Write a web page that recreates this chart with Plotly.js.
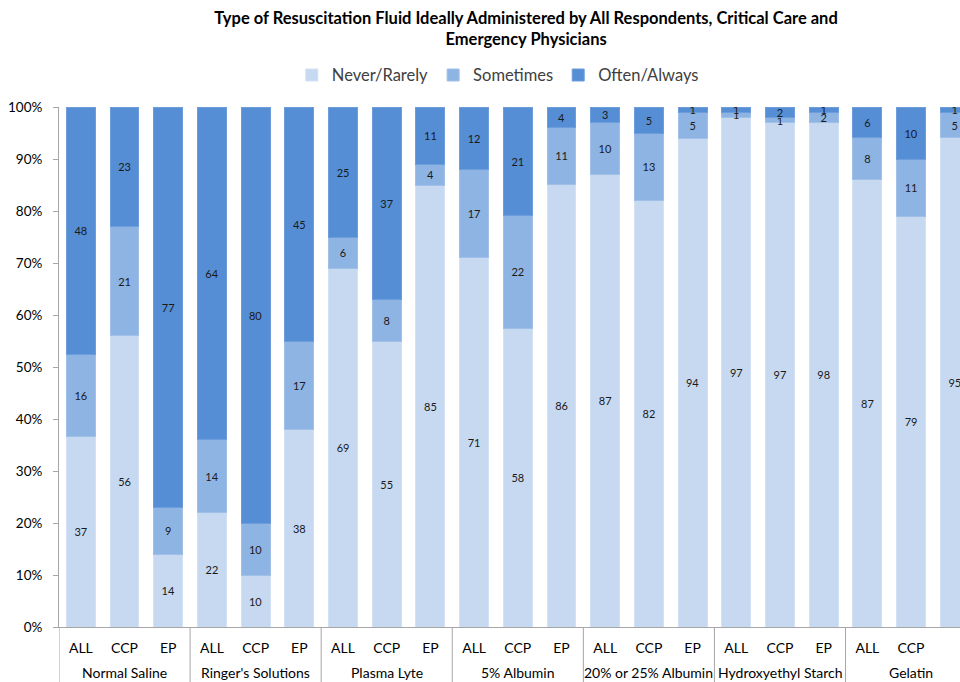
<!DOCTYPE html>
<html>
<head>
<meta charset="utf-8">
<script src="https://cdn.plot.ly/plotly-3.0.1.min.js"></script>
<style>html,body{margin:0;padding:0;background:#fff;}#chart{width:960px;height:682px;}</style>
</head>
<body>
<div id="chart"></div>
<script>
const groups = ["Normal Saline", "Ringer's Solutions", "Plasma Lyte", "5% Albumin", "20% or 25% Albumin", "Hydroxyethyl Starch", "Gelatin"];
const subgroups = ["ALL", "CCP", "EP"];
const seriesNames = ["Never/Rarely", "Sometimes", "Often/Always"];
const neverRarely = [37, 56, 14, 22, 10, 38, 69, 55, 85, 71, 58, 86, 87, 82, 94, 97, 97, 98, 87, 79, 95];
const sometimes   = [16, 21, 9, 14, 10, 17, 6, 8, 4, 17, 22, 11, 10, 13, 5, 1, 1, 2, 8, 11, 5];
const oftenAlways = [48, 23, 77, 64, 80, 45, 25, 37, 11, 12, 21, 4, 3, 5, 1, 1, 2, 1, 6, 10, 1];
const colors = ["#C6D9F1", "#8EB4E3", "#558ED5"];
const edges = ["#D3E1F4", "#A0C0E8", "#6D9EDB"];

const FONT = 'Lato, sans-serif';
const nSub = subgroups.length;
const xIdx = [], xSub = [];
groups.forEach((g, gi) => subgroups.forEach((s, si) => { xIdx.push(gi * nSub + si); xSub.push(s); }));

const values = [neverRarely, sometimes, oftenAlways];
const traces = values.map((v, i) => ({
  type: 'bar',
  name: seriesNames[i],
  x: xIdx,
  y: v,
  text: v.map(String),
  textposition: 'inside',
  insidetextanchor: 'middle',
  textangle: 0,
  textfont: {family: FONT, size: 11, color: '#1a1a1a'},
  marker: {color: colors[i], line: {color: edges[i], width: 1}},
  hoverinfo: 'skip'
}));

const annotations = groups.map((g, gi) => ({
  text: g, x: gi * nSub + (nSub - 1) / 2, xref: 'x',
  y: -0.087, yref: 'paper', yanchor: 'middle', xanchor: 'center',
  showarrow: false, font: {family: FONT, size: 14, color: '#000'}
}));

const shapes = [];
for (let gi = 0; gi < groups.length; gi++) {
  const xb = gi * nSub - 0.5;
  shapes.push({type: 'line', xref: 'x', yref: 'paper', x0: xb, x1: xb, y0: 0, y1: -0.11,
    line: {color: '#A6A6A6', width: 1}});
}

const layout = {
  width: 960, height: 682,
  margin: {l: 59, r: 0, t: 107, b: 55},
  paper_bgcolor: '#fff', plot_bgcolor: '#fff',
  barmode: 'stack', barnorm: 'percent', bargap: 0.34,
  showlegend: true,
  font: {family: FONT, color: '#404040'},
  title: {
    text: '<b>Type of Resuscitation Fluid Ideally Administered by All Respondents, Critical Care and<br>Emergency Physicians</b>',
    x: 0.548, xanchor: 'center', y: 0.965, yanchor: 'middle',
    font: {family: FONT, size: 16.5, color: '#000'}
  },
  legend: {
    orientation: 'h', x: 0.487, xanchor: 'center', y: 1.061, yanchor: 'middle',
    font: {family: FONT, size: 16.5, color: '#404040'},
    traceorder: 'normal', itemwidth: 30
  },
  uniformtext: {mode: 'show', minsize: 11},
  annotations: annotations,
  shapes: shapes,
  xaxis: {
    range: [-0.5, 20.12],
    tickvals: xIdx, ticktext: xSub,
    showline: true, linecolor: '#A6A6A6', linewidth: 1,
    ticks: '', showgrid: false, zeroline: false,
    ticklabelstandoff: 8,
    tickfont: {family: FONT, size: 14, color: '#000'}
  },
  yaxis: {
    range: [0, 100], dtick: 10, ticksuffix: '%',
    showline: true, linecolor: '#A6A6A6', linewidth: 1,
    ticks: 'outside', ticklen: 5, tickcolor: '#A6A6A6',
    ticklabelstandoff: 8,
    showgrid: false, zeroline: false,
    tickfont: {family: FONT, size: 13.5, color: '#000'}
  }
};

Plotly.newPlot('chart', traces, layout, {displayModeBar: false, staticPlot: true});
</script>
</body>
</html>
